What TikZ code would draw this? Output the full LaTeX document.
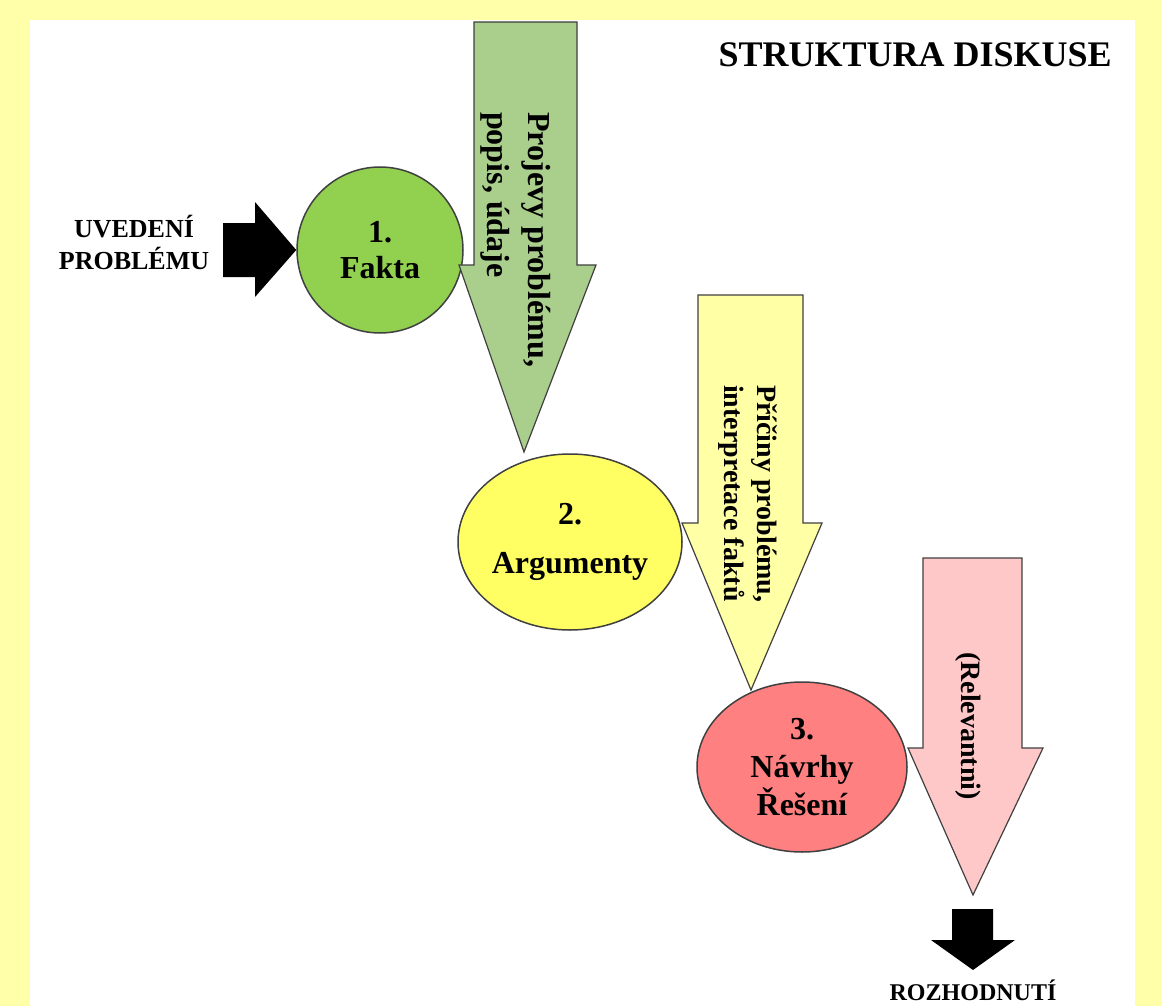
\documentclass[tikz,border=0pt]{standalone}
\usepackage{fontspec}
\setmainfont{Liberation Serif}
\usetikzlibrary{shapes.geometric}

\definecolor{bgyellow}{RGB}{255,255,170}
\definecolor{faktagreen}{RGB}{146,208,80}
\definecolor{projevygreen}{RGB}{170,206,140}
\definecolor{argyellow}{RGB}{255,255,100}
\definecolor{pricinyyellow}{RGB}{255,255,165}
\definecolor{navrhyred}{RGB}{255,128,128}
\definecolor{relpink}{RGB}{255,200,200}
\definecolor{edgegray}{RGB}{64,64,64}

\begin{document}
\begin{tikzpicture}[x=1pt, y=-1pt,
        stage/.style={ellipse, draw=edgegray, line width=1.5pt, inner sep=0pt, align=center},
        blockarrow/.style={draw=edgegray, line width=1.2pt, line join=miter},
        side/.style={rotate=-90, anchor=west, inner sep=0pt, align=left},
        caption/.style={inner sep=0pt, align=center}]

        \fill[bgyellow] (0,0) rectangle (1162,1006);
        \fill[white] (30,20) rectangle (1135,1006);
        \useasboundingbox (0,0) rectangle (1162,1006);

        \node[caption, font=\fontsize{36}{40}\selectfont\bfseries, anchor=base east] (title) at (1112,67) {STRUKTURA DISKUSE};

        \node[stage, fill=faktagreen, minimum width=166pt, minimum height=166pt,
                font=\fontsize{32}{36}\selectfont\bfseries] (fakta) at (380,250) {1.\\Fakta};
        \node[stage, fill=argyellow, minimum width=224pt, minimum height=176pt,
                font=\fontsize{32}{49}\selectfont\bfseries] (argumenty) at (570,542) {2.\\Argumenty};
        \node[stage, fill=navrhyred, minimum width=210pt, minimum height=170pt,
                font=\fontsize{32}{38}\selectfont\bfseries] (navrhy) at (802,767) {3.\\Návrhy\\Řešení};

        \draw[blockarrow, fill=projevygreen] (474,22) -- (577,22) -- (577,265) -- (596,265)
                -- (524,452) -- (459,265) -- (474,265) -- cycle;
        \draw[blockarrow, fill=pricinyyellow] (698,295) -- (803,295) -- (803,523) -- (822,523)
                -- (751,690) -- (682,523) -- (698,523) -- cycle;
        \draw[blockarrow, fill=relpink] (923,558) -- (1022,558) -- (1022,748) -- (1043,748)
                -- (973,895) -- (908,748) -- (923,748) -- cycle;

        \node[side, font=\fontsize{32}{41}\selectfont\bfseries] (projevy) at (516,112) {Projevy problému,\\popis, údaje};
        \node[side, font=\fontsize{28}{33}\selectfont\bfseries] (priciny) at (748,385) {Příčiny problému,\\interpretace faktů};
        \node[side, font=\fontsize{28}{33}\selectfont\bfseries] (relevantni) at (968,652) {(Relevantni)};

        \node[caption, font=\fontsize{26}{32}\selectfont\bfseries] (uvedeni) at (134,242) {UVEDENÍ\\PROBLÉMU};
        \fill (223,223) -- (255,223) -- (255,202) -- (fakta.west) -- (255,297) -- (255,277) -- (223,277) -- cycle;

        \fill (952,909) -- (993,909) -- (993,940) -- (1015,940) -- (973,970) -- (931,940) -- (952,940) -- cycle;
        \node[caption, font=\fontsize{24}{28}\selectfont\bfseries, anchor=base] (rozhodnuti) at (973,1000) {ROZHODNUTÍ};

\end{tikzpicture}
\end{document}
